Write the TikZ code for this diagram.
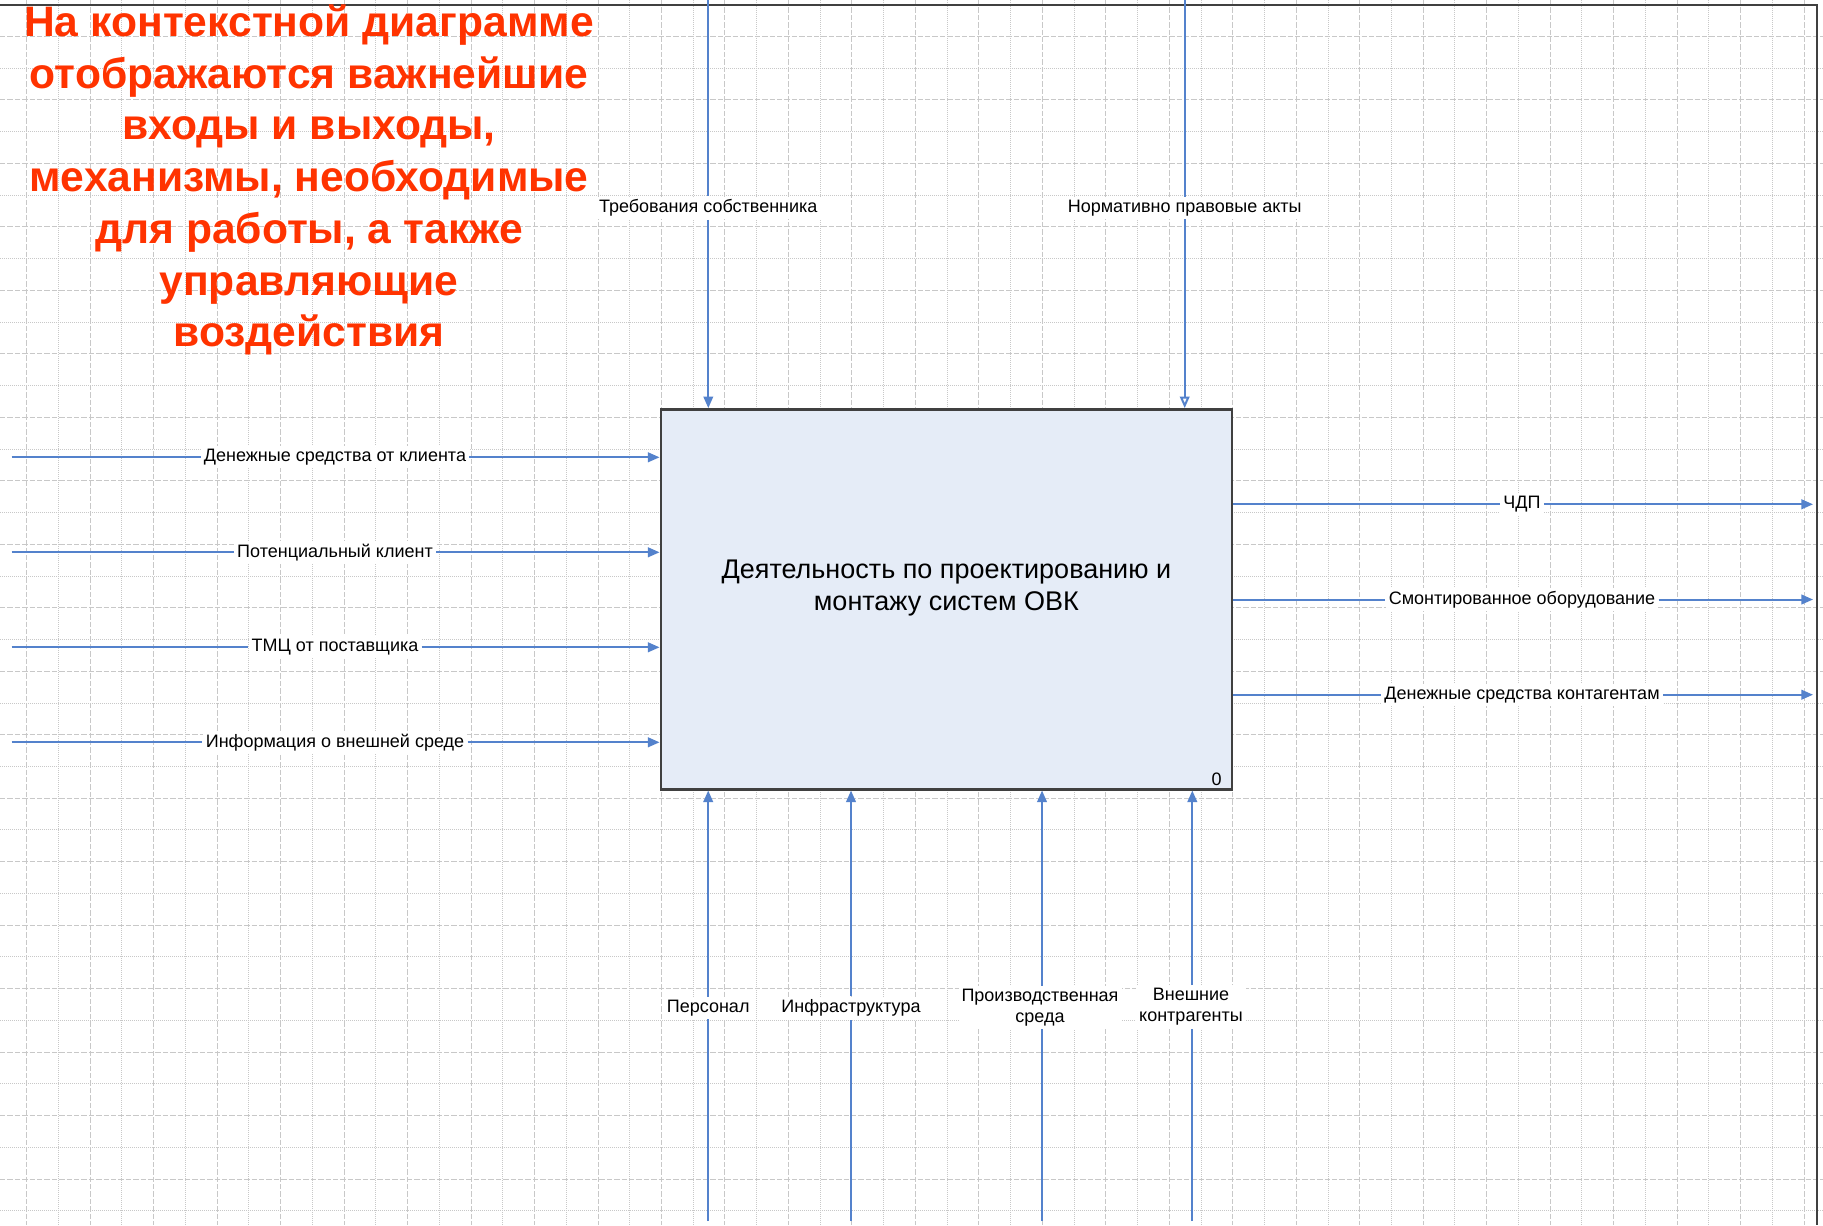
\documentclass[tikz,border=0pt]{standalone}
\usepackage{fontspec}
\setmainfont{Liberation Sans}
\usetikzlibrary{arrows.meta}
\definecolor{flowblue}{RGB}{84,130,204}
\definecolor{boxfill}{RGB}{229,236,247}
\definecolor{boxline}{RGB}{64,64,64}
\definecolor{gridgray}{RGB}{200,200,200}
\definecolor{noteRed}{RGB}{255,51,0}
\begin{document}
\begin{tikzpicture}[x=0.5pt, y=-0.5pt,
  every node/.style = {shape=rectangle, align=center},
  lbl/.style = {fill=white, inner sep=1.5pt, font=\fontsize{9}{10.5}\selectfont},
  flow/.style = {draw=flowblue, line width=1pt},
  tip/.style = {-{Triangle[length=5.8pt,width=4.8pt]}},
  opentip/.style = {-{Triangle[open,length=5.8pt,width=4.8pt]}},
  act/.style = {draw=boxline, fill=boxfill, line width=1.2pt, minimum width=285.6pt,
    minimum height=190pt},
  major/.style = {gridgray, line width=0.5pt, dash pattern=on 2.7pt off 1pt},
  minor/.style = {gridgray, line width=0.5pt, dash pattern=on 0.5pt off 0.5pt}]
\useasboundingbox (0,0) rectangle (1823,1225);
\fill[white] (0,0) rectangle (1823,1225);
\foreach \k in {0,...,28} {
  \draw[major] ({26.7+63.48*\k},0) -- ({26.7+63.48*\k},1225);
  \draw[minor] ({58.4+63.48*\k},0) -- ({58.4+63.48*\k},1225);
}
\foreach \k in {0,...,18} {
  \draw[major] (0,{36.5+63.48*\k}) -- (1823,{36.5+63.48*\k});
  \draw[minor] (0,{68.2+63.48*\k}) -- (1823,{68.2+63.48*\k});
}
\draw[boxline, line width=1pt] (0,5) -- (1817,5) -- (1817,1225);
\node[text=noteRed, font=\fontsize{21.3}{25.85}\selectfont\bfseries] (note) at (309,180)
  {На контекстной диаграмме\\ отображаются важнейшие\\ входы и выходы,\\
   механизмы, необходимые\\ для работы, а также\\ управляющие\\ воздействия};
\node[act] (act) at (946.35,599.3) {};
\node[font=\fontsize{13.5}{15.8}\selectfont] (act-text) at (946.35,588) {Деятельность по проектированию и\\ монтажу систем ОВК};
\node[font=\fontsize{9}{10}\selectfont, inner sep=0pt] (num) at (1216.7,779) {0};
\coordinate (money-src) at (11.6,457.3);
\coordinate (client-src) at (11.6,552.3);
\coordinate (tmc-src) at (11.6,647.3);
\coordinate (info-src) at (11.6,742.3);
\node[lbl] (money) at (335,457.3) {Денежные средства от клиента};
\node[lbl] (client) at (335,552.3) {Потенциальный клиент};
\node[lbl] (tmc) at (335,647.3) {ТМЦ от поставщика};
\node[lbl] (info) at (335,742.3) {Информация о внешней среде};
\draw[flow] (money-src) -- (money);
\draw[flow,tip] (money) -- (money -| act.west);
\draw[flow] (client-src) -- (client);
\draw[flow,tip] (client) -- (client -| act.west);
\draw[flow] (tmc-src) -- (tmc);
\draw[flow,tip] (tmc) -- (tmc -| act.west);
\draw[flow] (info-src) -- (info);
\draw[flow,tip] (info) -- (info -| act.west);
\coordinate (chdp-dst) at (1813,504.3);
\coordinate (equip-dst) at (1813,599.5);
\coordinate (pay-dst) at (1813,694.7);
\node[lbl] (chdp) at (1522,504.3) {ЧДП};
\node[lbl] (equip) at (1522,599.5) {Смонтированное оборудование};
\node[lbl] (pay) at (1522,694.7) {Денежные средства контагентам};
\draw[flow] (act.east |- chdp) -- (chdp);
\draw[flow,tip] (chdp) -- (chdp-dst);
\draw[flow] (act.east |- equip) -- (equip);
\draw[flow,tip] (equip) -- (equip-dst);
\draw[flow] (act.east |- pay) -- (pay);
\draw[flow,tip] (pay) -- (pay-dst);
\coordinate (req-src) at (708.3,0);
\coordinate (law-src) at (1184.7,0);
\node[lbl] (req) at (708.3,208) {Требования собственника};
\node[lbl] (law) at (1184.7,208) {Нормативно правовые акты};
\draw[flow] (req-src) -- (req);
\draw[flow,tip] (req) -- (req |- act.north);
\draw[flow] (law-src) -- (law);
\draw[flow,opentip] (law) -- (law |- act.north);
\coordinate (staff-src) at (708.2,1221);
\coordinate (infra-src) at (851,1221);
\coordinate (env-src) at (1042,1221);
\coordinate (ext-src) at (1192.3,1221);
\node[lbl] (staff) at (708.2,1008) {Персонал};
\node[lbl] (infra) at (851,1008) {Инфраструктура};
\node[lbl] (env) at (1040,1007.5) {Производственная\\ среда};
\node[lbl] (ext) at (1191,1007) {Внешние\\ контрагенты};
\draw[flow] (staff-src) -- (staff);
\draw[flow,tip] (staff) -- (staff |- act.south);
\draw[flow] (infra-src) -- (infra);
\draw[flow,tip] (infra) -- (infra |- act.south);
\draw[flow] (env-src) -- (env-src |- env.south);
\draw[flow,tip] (env-src |- env.north) -- (env-src |- act.south);
\draw[flow] (ext-src) -- (ext-src |- ext.south);
\draw[flow,tip] (ext-src |- ext.north) -- (ext-src |- act.south);
\end{tikzpicture}
\end{document}
